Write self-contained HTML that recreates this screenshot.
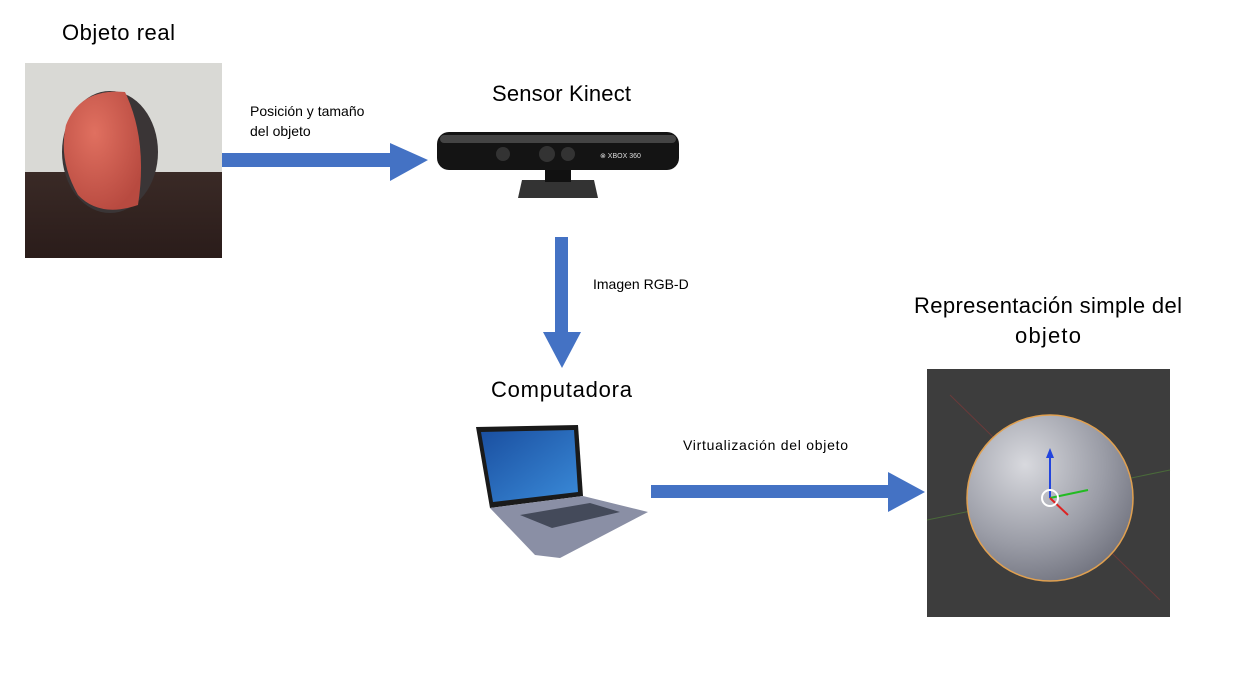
<!DOCTYPE html>
<html><head><meta charset="utf-8"><style>
html,body{margin:0;padding:0;background:#fff;width:1239px;height:688px;overflow:hidden}
svg{display:block}
text{font-family:"Liberation Sans",sans-serif;fill:#000}
</style></head><body>
<svg width="1239" height="688" viewBox="0 0 1239 688" xmlns="http://www.w3.org/2000/svg">
<defs>
<radialGradient id="ball" cx="0.4" cy="0.35" r="0.7"><stop offset="0" stop-color="#e07060"/><stop offset="1" stop-color="#b84a40"/></radialGradient>
<radialGradient id="sph" cx="0.35" cy="0.3" r="0.8"><stop offset="0" stop-color="#d8d9de"/><stop offset="0.6" stop-color="#9a9ca6"/><stop offset="1" stop-color="#6c6e7a"/></radialGradient>
<linearGradient id="tbl" x1="0" y1="0" x2="0" y2="1"><stop offset="0" stop-color="#3a2a26"/><stop offset="1" stop-color="#2a1c1a"/></linearGradient>
<linearGradient id="scr" x1="0" y1="0" x2="1" y2="1"><stop offset="0" stop-color="#1a4fa0"/><stop offset="1" stop-color="#3a8ad8"/></linearGradient>
</defs>

<text x="62" y="40" font-size="22" textLength="113">Objeto real</text>
<rect x="25" y="63" width="197" height="195" fill="#d9d9d5"/>
<rect x="25" y="172" width="197" height="86" fill="url(#tbl)"/>
<ellipse cx="110" cy="152" rx="48" ry="61" fill="#3a3536"/>
<path d="M66,125 Q80,88 125,92 Q148,140 138,205 Q100,218 78,195 Q58,160 66,125Z" fill="url(#ball)"/>

<rect x="222" y="153" width="168" height="14" fill="#4472c4"/>
<polygon points="390,143 428,160 390,181" fill="#4472c4"/>
<text x="250" y="116" font-size="14">Posición y tamaño</text>
<text x="250" y="136" font-size="14">del objeto</text>

<text x="492" y="101" font-size="22" textLength="139">Sensor Kinect</text>
<path d="M522,180 L594,180 L598,198 L518,198Z" fill="#333"/>
<rect x="545" y="168" width="26" height="14" fill="#111"/>
<rect x="437" y="132" width="242" height="38" rx="12" fill="#141414"/>
<rect x="440" y="135" width="236" height="8" rx="4" fill="#444"/>
<circle cx="503" cy="154" r="7" fill="#333"/><circle cx="547" cy="154" r="8" fill="#333"/><circle cx="568" cy="154" r="7" fill="#333"/>
<text x="600" y="158" font-size="7" style="fill:#ddd">⊗ XBOX 360</text>

<rect x="555" y="237" width="13" height="95" fill="#4472c4"/>
<polygon points="543,332 581,332 562,368" fill="#4472c4"/>
<text x="593" y="289" font-size="14">Imagen RGB-D</text>

<text x="491" y="397" font-size="22" textLength="141">Computadora</text>
<polygon points="476,427 578,425 583,496 490,508" fill="#1a1a1a"/>
<polygon points="481,432 574,430 578,492 493,502" fill="url(#scr)"/>
<polygon points="490,508 583,496 648,512 560,558 535,555" fill="#8a8fa5"/>
<polygon points="520,515 590,503 620,512 552,528" fill="#444a5a"/>

<text x="683" y="450" font-size="14" textLength="165">Virtualización del objeto</text>
<rect x="651" y="485" width="237" height="13" fill="#4472c4"/>
<polygon points="888,472 925,492 888,512" fill="#4472c4"/>

<text x="914" y="313" font-size="22" textLength="268">Representación simple del</text>
<text x="1015" y="343" font-size="22" textLength="66">objeto</text>
<rect x="927" y="369" width="243" height="248" fill="#3d3d3d"/>
<line x1="927" y1="520" x2="1170" y2="470" stroke="#4a6a3a" stroke-width="1"/>
<line x1="950" y1="395" x2="1160" y2="600" stroke="#6a3a3a" stroke-width="1"/>
<circle cx="1050" cy="498" r="83" fill="url(#sph)" stroke="#e0a050" stroke-width="1.5"/>
<line x1="1050" y1="498" x2="1050" y2="455" stroke="#2244dd" stroke-width="2"/>
<polygon points="1046,458 1054,458 1050,448" fill="#2244dd"/>
<line x1="1050" y1="498" x2="1088" y2="490" stroke="#22bb22" stroke-width="2"/>
<line x1="1050" y1="498" x2="1068" y2="515" stroke="#dd2222" stroke-width="2"/>
<circle cx="1050" cy="498" r="8" fill="none" stroke="#fff" stroke-width="2"/>
</svg>
</body></html>
